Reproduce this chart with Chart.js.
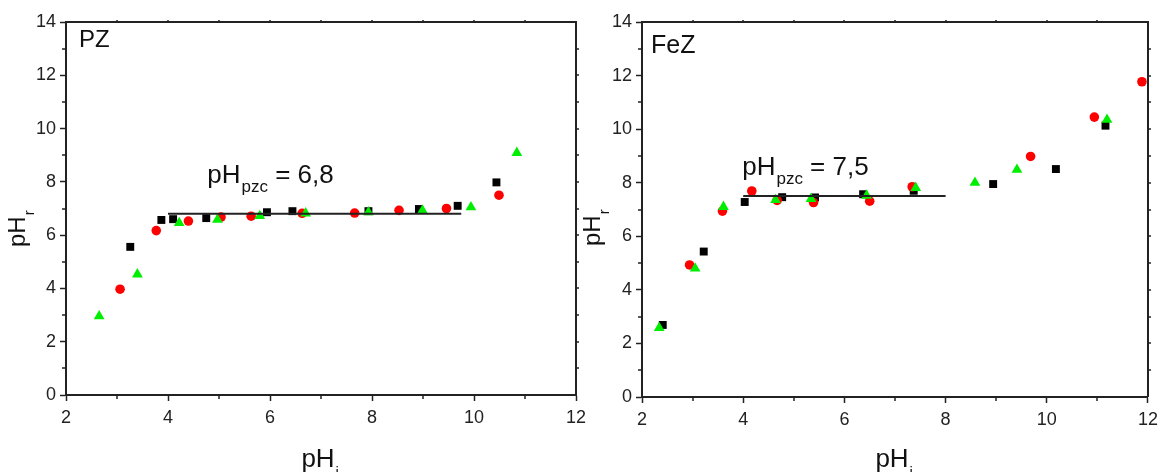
<!DOCTYPE html>
<html>
<head>
<meta charset="utf-8">
<script src="https://cdn.jsdelivr.net/npm/chart.js@4.4.1/dist/chart.umd.min.js"></script>
<style>
  html, body { margin: 0; padding: 0; background: #fff; }
  #wrap { position: relative; width: 1164px; height: 472px; overflow: hidden; }
  canvas { position: absolute; top: 0; }
  #pz { left: 0; }
  #fez { left: 582px; }
</style>
</head>
<body>
<div id="wrap">
  <canvas id="pz" width="600" height="472"></canvas>
  <canvas id="fez" width="582" height="472"></canvas>
</div>
<script>
// PZ: pH inicial vs pH final, tres series
const pzCuadX = [3.26, 3.87, 4.10, 4.75, 5.94, 6.44, 7.93, 8.92, 9.68, 10.44];
const pzCuadY = [5.56, 6.57, 6.60, 6.64, 6.86, 6.90, 6.90, 6.98, 7.10, 7.98];
const pzCircX = [3.06, 3.77, 4.40, 5.04, 5.63, 6.63, 7.66, 8.53, 9.46, 10.49];
const pzCircY = [3.97, 6.17, 6.53, 6.68, 6.71, 6.82, 6.83, 6.93, 7.00, 7.50];
const pzTriX = [2.65, 3.40, 4.22, 4.97, 5.80, 6.70, 7.93, 8.99, 9.94, 10.84];
const pzTriY = [2.96, 4.53, 6.46, 6.58, 6.72, 6.82, 6.86, 6.93, 7.05, 9.09];
const pzPzc = 6.8;
const pzMeseta = [4.0, 9.75];

// FeZ
const fezCuadX = [2.41, 3.22, 4.03, 4.77, 5.42, 6.37, 7.37, 8.94, 10.18, 11.16];
const fezCuadY = [2.69, 5.43, 7.28, 7.46, 7.45, 7.57, 7.70, 7.95, 8.51, 10.13];
const fezCircX = [2.94, 3.59, 4.17, 4.67, 5.39, 6.50, 7.34, 9.68, 10.94, 11.88];
const fezCircY = [4.93, 6.94, 7.69, 7.34, 7.26, 7.31, 7.85, 8.98, 10.45, 11.77];
const fezTriX = [2.34, 3.05, 3.61, 4.64, 5.34, 6.44, 7.41, 8.58, 9.41, 11.19];
const fezTriY = [2.58, 4.80, 7.10, 7.36, 7.40, 7.52, 7.81, 8.00, 8.49, 10.35];
const fezPzc = 7.5;
const fezMeseta = [4.0, 8.0];

// ejes
const ejeX = [2, 12];
const ejeY = [0, 14];

const FUENTE = '"Liberation Sans", Arial, sans-serif';
const OSCURO = '#222';

const puntos = (xs, ys) => xs.map((x, i) => ({ x, y: ys[i] }));

// texto con subindice
function textoSub(ctx, x, y, base, sub, tam, tamSub, baja) {
  ctx.font = `${tam}px ${FUENTE}`;
  ctx.fillText(base, x, y);
  const w = ctx.measureText(base).width;
  ctx.font = `${tamSub}px ${FUENTE}`;
  ctx.fillText(sub, x + w + 1, y + baja);
  return w + 1 + ctx.measureText(sub).width;
}

const decoracion = {
  id: 'decoracion',
  afterDraw(chart, args, o) {
    const { ctx, chartArea: a, scales: { x, y } } = chart;
    ctx.save();
    ctx.strokeStyle = OSCURO;

    // marcas menores
    ctx.lineWidth = 1.5;
    ctx.beginPath();
    for (let v = ejeX[0] + 1; v < ejeX[1]; v += 2) {
      const px = Math.round(x.getPixelForValue(v));
      ctx.moveTo(px, a.bottom); ctx.lineTo(px, a.bottom + 4);
    }
    for (let v = ejeY[0] + 1; v < ejeY[1]; v += 2) {
      const py = Math.round(y.getPixelForValue(v));
      ctx.moveTo(a.left, py); ctx.lineTo(a.left - 4, py);
    }
    // marcas del marco superior y derecho
    for (let v = ejeX[0] + 1; v < ejeX[1]; v++) {
      const px = Math.round(x.getPixelForValue(v));
      ctx.moveTo(px, a.top); ctx.lineTo(px, a.top - 2);
    }
    for (let v = ejeY[0] + 1; v < ejeY[1]; v++) {
      const py = Math.round(y.getPixelForValue(v));
      ctx.moveTo(a.right, py); ctx.lineTo(a.right + 3, py);
    }
    ctx.stroke();

    // marco superior y derecho
    ctx.lineWidth = 2;
    ctx.beginPath();
    ctx.moveTo(a.left, a.top); ctx.lineTo(a.right, a.top); ctx.lineTo(a.right, a.bottom);
    ctx.stroke();

    ctx.fillStyle = '#111';
    ctx.textAlign = 'left';
    ctx.textBaseline = 'alphabetic';

    // nombre del material
    ctx.font = `${o.tamPanel}px ${FUENTE}`;
    ctx.fillText(o.panel, o.panelPos[0], o.panelPos[1]);

    // pH de carga cero
    const lx = x.getPixelForValue(o.pzcPos[0]);
    const ly = y.getPixelForValue(o.pzcPos[1]);
    const w = textoSub(ctx, lx, ly, 'pH', 'pzc', 26, 17, 9);
    ctx.font = `26px ${FUENTE}`;
    ctx.fillText(' = ' + o.pzcTexto, lx + w, ly);

    // titulo eje x
    ctx.font = `26px ${FUENTE}`;
    const wx = ctx.measureText('pH').width;
    textoSub(ctx, (a.left + a.right) / 2 - wx / 2 - 3, 467, 'pH', 'i', 26, 15, 10);

    // titulo eje y
    ctx.save();
    ctx.translate(o.tituloY[0], o.tituloY[1]);
    ctx.rotate(-Math.PI / 2);
    textoSub(ctx, 0, 0, 'pH', 'r', 24, 15, 9);
    ctx.restore();

    ctx.restore();
  }
};

function crearGrafico(id, datos, deco, caja) {
  const ctx = document.getElementById(id).getContext('2d');
  const altoCanvas = 472;
  return new Chart(ctx, {
    type: 'scatter',
    data: {
      datasets: [
        {
          type: 'line',
          data: [{ x: datos.meseta[0], y: datos.pzc }, { x: datos.meseta[1], y: datos.pzc }],
          borderColor: OSCURO,
          borderWidth: 2,
          pointRadius: 0,
          showLine: true
        },
        {
          data: puntos(datos.triX, datos.triY),
          pointStyle: 'triangle',
          pointRadius: 6.2,
          backgroundColor: '#00ee00',
          borderColor: '#00ee00',
          borderWidth: 0
        },
        {
          data: puntos(datos.circX, datos.circY),
          pointStyle: 'circle',
          pointRadius: 4.8,
          backgroundColor: '#ff0000',
          borderColor: '#ff0000',
          borderWidth: 0
        },
        {
          data: puntos(datos.cuadX, datos.cuadY),
          pointStyle: 'rect',
          pointRadius: 5.6,
          backgroundColor: '#000',
          borderColor: '#000',
          borderWidth: 0
        }
      ]
    },
    options: {
      responsive: false,
      animation: false,
      events: [],
      layout: {
        autoPadding: false,
        padding: { left: 0, right: caja.derecha, top: 22, bottom: 0 }
      },
      scales: {
        x: {
          type: 'linear',
          min: ejeX[0],
          max: ejeX[1],
          afterFit: s => { s.height = altoCanvas - caja.abajo; },
          ticks: {
            stepSize: 2,
            padding: 6,
            color: OSCURO,
            font: { family: FUENTE, size: 18 }
          },
          grid: {
            drawOnChartArea: false,
            tickLength: 6,
            tickColor: OSCURO,
            tickWidth: 1.5
          },
          border: { display: true, color: OSCURO, width: 2 }
        },
        y: {
          type: 'linear',
          min: ejeY[0],
          max: ejeY[1],
          afterFit: s => { s.width = caja.izquierda; },
          ticks: {
            stepSize: 2,
            padding: 4,
            color: OSCURO,
            font: { family: FUENTE, size: 18 }
          },
          grid: {
            drawOnChartArea: false,
            tickLength: 6,
            tickColor: OSCURO,
            tickWidth: 1.5
          },
          border: { display: true, color: OSCURO, width: 2 }
        }
      },
      plugins: {
        legend: { display: false },
        tooltip: { enabled: false },
        decoracion: deco
      }
    },
    plugins: [decoracion]
  });
}

crearGrafico('pz', {
  cuadX: pzCuadX, cuadY: pzCuadY,
  circX: pzCircX, circY: pzCircY,
  triX: pzTriX, triY: pzTriY,
  pzc: pzPzc, meseta: pzMeseta
}, {
  panel: 'PZ', panelPos: [79, 47], tamPanel: 24,
  pzcTexto: '6,8', pzcPos: [4.77, 7.96],
  tituloY: [25, 247]
}, { izquierda: 66, derecha: 24, abajo: 395 });

crearGrafico('fez', {
  cuadX: fezCuadX, cuadY: fezCuadY,
  circX: fezCircX, circY: fezCircY,
  triX: fezTriX, triY: fezTriY,
  pzc: fezPzc, meseta: fezMeseta
}, {
  panel: 'FeZ', panelPos: [69, 53], tamPanel: 25,
  pzcTexto: '7,5', pzcPos: [3.98, 8.28],
  tituloY: [18, 246]
}, { izquierda: 60, derecha: 12, abajo: 397 });
</script>
</body>
</html>
